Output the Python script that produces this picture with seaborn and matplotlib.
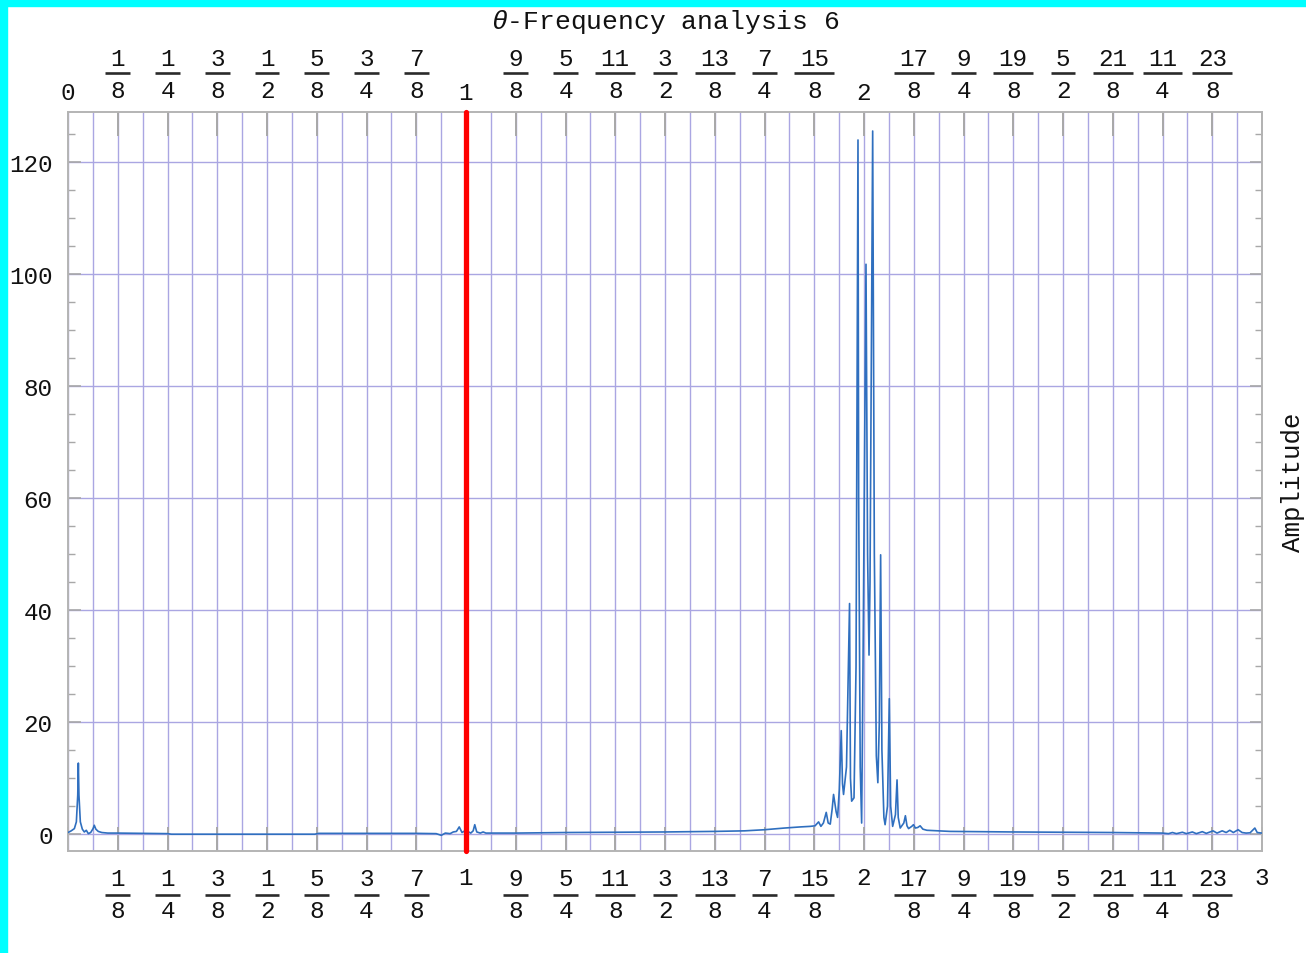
import matplotlib
matplotlib.use("Agg")
import matplotlib.pyplot as plt
import matplotlib.patches as mpatches
import matplotlib.transforms as mtransforms
from matplotlib.lines import Line2D
from matplotlib.ticker import MultipleLocator
import seaborn as sns
import pandas as pd

# ---------------- data ----------------
freq = [0.000, 0.008, 0.016, 0.021, 0.0245, 0.026, 0.0275, 0.031, 0.036, 0.041,
        0.046, 0.051, 0.057, 0.063, 0.066, 0.070, 0.076, 0.085, 0.100, 0.125,
        0.250, 0.260, 0.375, 0.500, 0.620, 0.630, 0.750, 0.875, 0.925, 0.938,
        0.948, 0.960, 0.968, 0.976, 0.983, 0.990, 0.997, 1.004, 1.012, 1.018,
        1.022, 1.027, 1.036, 1.043, 1.050, 1.125, 1.250, 1.375, 1.500, 1.625,
        1.700, 1.750, 1.800, 1.840, 1.865, 1.877, 1.8859, 1.8917, 1.898, 1.9051,
        1.9100, 1.9152, 1.9200, 1.9235, 1.9300, 1.9336, 1.9380, 1.9428, 1.9460, 1.9486,
        1.9560, 1.9637, 1.9660, 1.9690, 1.9749, 1.9800, 1.9816, 1.9849, 1.9866, 1.9905,
        1.9941, 1.9975, 2.0050, 2.0090, 2.0126, 2.0151, 2.0218, 2.0260, 2.0310, 2.0348,
        2.0385, 2.0418, 2.0450, 2.0500, 2.0530, 2.0590, 2.0636, 2.0670, 2.0720, 2.0790,
        2.0830, 2.0860, 2.0910, 2.1000, 2.1040, 2.1080, 2.1120, 2.1200, 2.1243, 2.1290,
        2.1350, 2.1410, 2.1480, 2.1580, 2.2160, 2.3750, 2.5000, 2.6250, 2.7500, 2.7650,
        2.7750, 2.7850, 2.8000, 2.8100, 2.8250, 2.8350, 2.8500, 2.8600, 2.8770, 2.8870,
        2.9000, 2.9100, 2.9190, 2.9280, 2.9400, 2.9500, 2.9600, 2.9700, 2.9820, 2.9880,
        3.0000]
amp = [0.3, 0.6, 1.0, 2.2, 7.0, 12.7, 7.0, 2.2, 0.9, 0.4,
       0.7, 0.1, 0.3, 1.0, 1.6, 0.9, 0.5, 0.3, 0.2, 0.2,
       0.1, 0.0, 0.0, 0.0, 0.0, 0.15, 0.15, 0.15, 0.1, -0.2,
       0.2, 0.1, 0.4, 0.5, 1.3, 0.3, 0.6, 0.5, 0.2, 0.6,
       1.7, 0.4, 0.2, 0.4, 0.2, 0.2, 0.3, 0.35, 0.4, 0.5,
       0.6, 0.8, 1.1, 1.3, 1.4, 1.5, 2.2, 1.4, 2.0, 3.9,
       2.0, 1.8, 4.5, 7.1, 4.0, 3.0, 8.0, 18.5, 9.0, 7.1,
       12.0, 41.2, 10.0, 5.9, 6.5, 30.0, 62.0, 124.0, 60.0, 12.0,
       2.0, 30.0, 101.8, 50.0, 32.0, 45.0, 125.6, 50.0, 14.0, 9.2,
       20.0, 49.9, 15.0, 3.0, 1.7, 5.0, 24.2, 5.0, 1.4, 3.5,
       9.7, 3.0, 1.1, 2.0, 3.3, 1.5, 1.0, 1.4, 1.7, 1.1,
       1.2, 1.5, 0.9, 0.7, 0.5, 0.4, 0.35, 0.3, 0.2, 0.1,
       0.3, 0.1, 0.35, 0.1, 0.4, 0.1, 0.45, 0.15, 0.6, 0.2,
       0.6, 0.3, 0.7, 0.3, 0.8, 0.3, 0.2, 0.25, 1.1, 0.3,
       0.2]

x_ticks = [i / 8 for i in range(25)]
top_tick_labels = ["0", "1/8", "1/4", "3/8", "1/2", "5/8", "3/4", "7/8", "1",
                   "9/8", "5/4", "11/8", "3/2", "13/8", "7/4", "15/8", "2",
                   "17/8", "9/4", "19/8", "5/2", "21/8", "11/4", "23/8", ""]
bottom_tick_labels = ["", "1/8", "1/4", "3/8", "1/2", "5/8", "3/4", "7/8", "1",
                      "9/8", "5/4", "11/8", "3/2", "13/8", "7/4", "15/8", "2",
                      "17/8", "9/4", "19/8", "5/2", "21/8", "11/4", "23/8", "3"]
y_ticks = [0, 20, 40, 60, 80, 100, 120]
marker_freq = 1.0
title_text = r"$\theta$-Frequency analysis 6"
ylabel_text = "Amplitude"

# ---------------- style ----------------
sns.set_theme(style="white")
plt.rcParams["font.family"] = ["Liberation Mono", "DejaVu Sans"]
plt.rcParams["mathtext.fontset"] = "custom"
plt.rcParams["mathtext.rm"] = "Liberation Mono"
plt.rcParams["mathtext.it"] = "Liberation Mono:italic"

W, H = 1306, 954
AX_L, AX_R, AX_T, AX_B = 68, 1262, 113, 852
fig = plt.figure(figsize=(W / 100, H / 100), dpi=100)
fig.patch.set_facecolor("white")

# cyan frame (top and left)
fig.patches.append(mpatches.Rectangle((0, 1 - 7 / H), 1, 7 / H, transform=fig.transFigure,
                                      color="#00ffff", zorder=0))
fig.patches.append(mpatches.Rectangle((0, 0), 7 / W, 1, transform=fig.transFigure,
                                      color="#00ffff", zorder=0))

ax = fig.add_axes([AX_L / W, (H - AX_B) / H, (AX_R - AX_L) / W, (AX_B - AX_T) / H])
ax.set_facecolor("white")

df = pd.DataFrame({"freq": freq, "amp": amp})
sns.lineplot(data=df, x="freq", y="amp", estimator=None, sort=False,
             color="#2f6fbf", linewidth=1.2, ax=ax, zorder=3)

ax.axvline(marker_freq, color="#ff0000", linewidth=3.8, zorder=4, clip_on=False,
           solid_capstyle="round")

ax.set_xlim(0, 3)
ax.set_ylim(-3, 129)

grid_col = "#aaa6e2"
spine_col = "#b4b4b4"
tick_col = "#a8a8a8"
text_col = "#111111"
FS = 17.5

ax.set_xticks(x_ticks)
ax.set_xticklabels([""] * len(x_ticks))
ax.xaxis.set_minor_locator(MultipleLocator(0.0625))
ax.set_yticks(y_ticks)
ax.yaxis.set_minor_locator(MultipleLocator(5))

ax.grid(True, which="both", axis="x", color=grid_col, linewidth=1.0, zorder=1)
ax.grid(True, which="major", axis="y", color=grid_col, linewidth=1.0, zorder=1)
ax.set_axisbelow(True)

ax.tick_params(axis="x", which="major", direction="in", length=17, width=1.4,
               color=tick_col, bottom=True, top=True)
ax.tick_params(axis="x", which="minor", length=0)
ax.tick_params(axis="y", which="major", direction="in", length=9, width=1.2,
               color=tick_col, left=True, right=True, labelsize=FS, pad=11,
               labelcolor=text_col)
ax.tick_params(axis="y", which="minor", direction="in", length=5, width=1.0,
               color=tick_col, left=True, right=True)

for sp in ax.spines.values():
    sp.set_color(spine_col)
    sp.set_linewidth(1.4)

# ---- stacked-fraction tick labels (top and bottom) ----
px_per_unit = (AX_R - AX_L) / 3.0
char_px = 14.8


def put_label(x, s, top):
    if top:
        yref = 1.0
        num_dy, bar_dy, den_dy, int_dy = 47, 39, 15, 13
    else:
        yref = 0.0
        num_dy, bar_dy, den_dy, int_dy = -34, -43.5, -66.5, -33
    base = ax.get_xaxis_transform()
    if s == "":
        return
    if "/" in s:
        a, b = s.split("/")
        ax.text(x, yref, a, ha="center", va="baseline", fontsize=FS, color=text_col,
                transform=mtransforms.offset_copy(base, fig=fig, x=0, y=num_dy, units="dots"),
                clip_on=False)
        ax.text(x, yref, b, ha="center", va="baseline", fontsize=FS, color=text_col,
                transform=mtransforms.offset_copy(base, fig=fig, x=0, y=den_dy, units="dots"),
                clip_on=False)
        half = (char_px * max(len(a), len(b)) + 10) / 2 / px_per_unit
        ax.add_line(Line2D([x - half, x + half], [yref, yref], color="#2a2a2a", linewidth=1.9,
                           transform=mtransforms.offset_copy(base, fig=fig, x=0, y=bar_dy, units="dots"),
                           clip_on=False, solid_capstyle="butt"))
    else:
        ax.text(x, yref, s, ha="center", va="baseline", fontsize=FS, color=text_col,
                transform=mtransforms.offset_copy(base, fig=fig, x=0, y=int_dy, units="dots"),
                clip_on=False)


for xv, s in zip(x_ticks, top_tick_labels):
    put_label(xv, s, True)
for xv, s in zip(x_ticks, bottom_tick_labels):
    put_label(xv, s, False)

ax.set_xlabel("")
ax.yaxis.set_label_position("right")
ax.set_ylabel(ylabel_text, fontsize=18.5, labelpad=14, color=text_col)

fig.text((AX_L + 597) / W, 1 - 22 / H, title_text, ha="center", va="center",
         fontsize=19, color=text_col)

fig.savefig("out.png", dpi=100, facecolor="white")
